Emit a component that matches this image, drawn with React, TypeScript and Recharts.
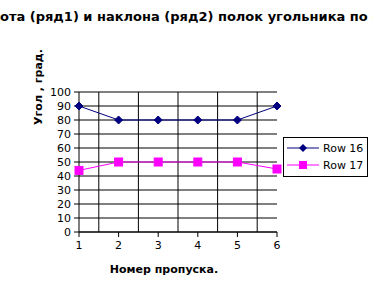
import { LineChart, Line, XAxis, YAxis, CartesianGrid, ReferenceLine, Customized } from 'recharts';

const passes = [1, 2, 3, 4, 5, 6];
const row16 = [90, 80, 80, 80, 80, 90];
const row17 = [44, 50, 50, 50, 50, 45];
const yTicks = [0, 10, 20, 30, 40, 50, 60, 70, 80, 90, 100];
const seriesNames = ['Row 16', 'Row 17'];

const data = passes.map((p, i) => ({ pass: p, r16: row16[i], r17: row17[i] }));
const gridX = passes.slice(1).map((p) => p - 0.5);

const FONT = 'DejaVu Sans, sans-serif';

const Diamond = (props: any) => {
    const { cx, cy } = props;
    if (cx == null || cy == null) return null;
    return <path d={`M${cx},${cy - 4}L${cx + 4},${cy}L${cx},${cy + 4}L${cx - 4},${cy}Z`} fill="#000080" stroke="#000080" />;
};

const Square = (props: any) => {
    const { cx, cy } = props;
    if (cx == null || cy == null) return null;
    return <rect x={cx - 4} y={cy - 4} width={8} height={8} fill="#ff00ff" stroke="#ff00ff" />;
};

// legend drawn as a plain group at the right of the plot
const LegendBox = () => (
    <g transform="translate(283,137)">
        <rect x={0.5} y={0.5} width={84} height={39} fill="#fff" stroke="#000" />
        <line x1={4} y1={11} x2={36} y2={11} stroke="#000080" />
        <path d="M20,7L24,11L20,15L16,11Z" fill="#000080" />
        <text x={40} y={15} fontSize={11} fontFamily={FONT} fill="#000">{seriesNames[0]}</text>
        <line x1={4} y1={28} x2={36} y2={28} stroke="#ff00ff" />
        <rect x={16} y={24} width={8} height={8} fill="#ff00ff" />
        <text x={40} y={32} fontSize={11} fontFamily={FONT} fill="#000">{seriesNames[1]}</text>
    </g>
);

const PlotBg = (props: any) => {
    const { offset } = props;
    if (!offset) return null;
    return <rect x={offset.left} y={offset.top} width={offset.width} height={offset.height} fill="#c0c0c0" stroke="#808080" />;
};

export default function App() {
    return (
        <div style={{ position: 'absolute', left: 0, top: 0, width: 373, height: 286, background: '#fff', overflow: 'hidden' }}>
            <LineChart width={373} height={286} data={data} margin={{ top: 92, right: 96, bottom: 24, left: 0 }}>
                <Customized component={PlotBg} />
                <text x={0} y={21} fontSize={13} fontWeight="bold" fontFamily={FONT} fill="#000">
                    ота (ряд1) и наклона (ряд2) полок угольника по пропускам
                </text>
                <text x={0} y={21} textAnchor="end" fontSize={13} fontWeight="bold" fontFamily={FONT} fill="#000">
                    Углы повор
                </text>
                <text x={42} y={87} transform="rotate(-90 42 87)" textAnchor="middle" fontSize={11} fontWeight="bold" fontFamily={FONT} fill="#000">
                    Угол , град.
                </text>
                <text x={164} y={273} textAnchor="middle" fontSize={11} fontWeight="bold" fontFamily={FONT} fill="#000">
                    Номер пропуска.
                </text>
                <CartesianGrid vertical={false} stroke="#000" strokeOpacity={1} fill="none" />
                {gridX.map((g) => (
                    <ReferenceLine key={g} x={g} stroke="#000" />
                ))}
                <XAxis
                    dataKey="pass"
                    type="number"
                    domain={[1, 6]}
                    ticks={passes}
                    height={30}
                    tickSize={5}
                    tickMargin={4}
                    stroke="#000"
                    tick={{ fill: '#000', fontSize: 11, fontFamily: FONT }}
                />
                <YAxis
                    domain={[0, 100]}
                    ticks={yTicks}
                    width={79}
                    tickSize={5}
                    tickMargin={3}
                    stroke="#000"
                    interval={0}
                    tick={{ fill: '#000', fontSize: 11, fontFamily: FONT }}
                />
                <Line dataKey="r16" name={seriesNames[0]} stroke="#000080" strokeWidth={1} dot={<Diamond />} activeDot={false} isAnimationActive={false} />
                <Line dataKey="r17" name={seriesNames[1]} stroke="#ff00ff" strokeWidth={1} dot={<Square />} activeDot={false} isAnimationActive={false} />
                <LegendBox />
            </LineChart>
        </div>
    );
}
